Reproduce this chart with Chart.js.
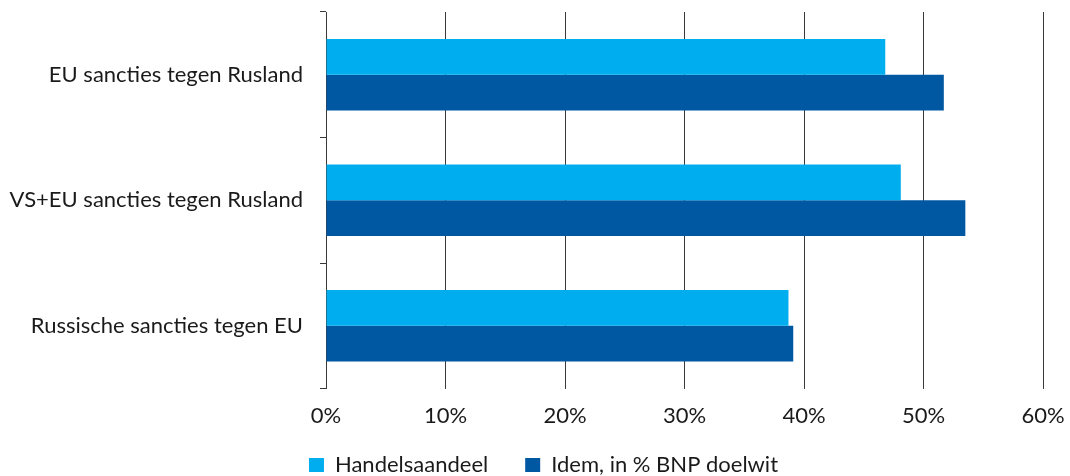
<!DOCTYPE html>
<html>
<head>
<meta charset="utf-8">
<script src="https://cdn.jsdelivr.net/npm/chart.js@4"></script>
<style>
  html, body { margin: 0; padding: 0; background: #ffffff; }
  #wrap { width: 1070px; height: 476px; }
</style>
</head>
<body>
<div id="wrap"><canvas id="chart" width="1070" height="476"></canvas></div>
<script>
// Categories and series
const categories = [
    "EU sancties tegen Rusland",
    "VS+EU sancties tegen Rusland",
    "Russische sancties tegen EU"
];
const seriesNames = ["Handelsaandeel", "Idem, in % BNP doelwit"];
const handelsaandeel = [46.8, 48.1, 38.7];
const bnpDoelwit = [51.7, 53.5, 39.1];
const xTicks = [0, 10, 20, 30, 40, 50, 60];

const lightBlue = '#00AEEF';
const darkBlue = '#0057A2';
const gridColor = '#3a3a3a';

Chart.defaults.font.family = 'Lato, "Open Sans", sans-serif';
Chart.defaults.font.size = 22;
Chart.defaults.color = '#1a1a1a';

// move the legend row up and a bit to the right once layout is done
const legendNudge = {
    id: 'legendNudge',
    afterLayout(chart) {
        const lg = chart.legend;
        lg.top -= 26;
        lg.bottom -= 26;
        lg.left += 22;
        lg.right += 22;
    }
};

const ctx = document.getElementById('chart').getContext('2d');

new Chart(ctx, {
    type: 'bar',
    data: {
        labels: categories,
        datasets: [
            {
                label: seriesNames[0],
                data: handelsaandeel,
                backgroundColor: lightBlue,
                categoryPercentage: 0.57,
                barPercentage: 1.0
            },
            {
                label: seriesNames[1],
                data: bnpDoelwit,
                backgroundColor: darkBlue,
                categoryPercentage: 0.57,
                barPercentage: 1.0
            }
        ]
    },
    plugins: [legendNudge],
    options: {
        indexAxis: 'y',
        responsive: false,
        animation: false,
        layout: { padding: { top: 12, right: 27, left: 0, bottom: -36 } },
        plugins: {
            legend: {
                position: 'bottom',
                labels: {
                    boxWidth: 15,
                    boxHeight: 14,
                    padding: 37,
                    font: { size: 22 }
                }
            },
            tooltip: { enabled: false }
        },
        scales: {
            x: {
                min: 0,
                max: 60,
                afterBuildTicks: scale => {
                    scale.ticks = xTicks.map(v => ({ value: v }));
                },
                afterFit: scale => {
                    scale.paddingLeft = 0;
                    scale.paddingRight = 0;
                },
                border: { display: false },
                grid: {
                    color: gridColor,
                    lineWidth: 1,
                    drawTicks: false
                },
                ticks: {
                    padding: 14,
                    callback: v => v + '%'
                }
            },
            y: {
                afterFit: scale => {
                    scale.width = 326;
                    scale.paddingTop = 0;
                    scale.paddingBottom = 0;
                },
                border: { display: true, color: gridColor, width: 1 },
                grid: {
                    offset: true,
                    drawOnChartArea: false,
                    drawTicks: true,
                    tickLength: 6,
                    color: gridColor
                },
                ticks: {
                    padding: 17
                }
            }
        }
    }
});
</script>
</body>
</html>
